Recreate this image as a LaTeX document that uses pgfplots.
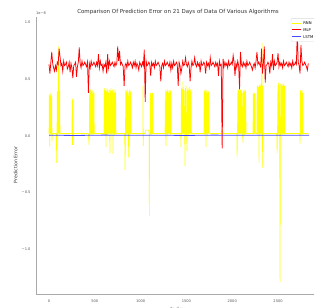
\documentclass[border=0pt]{standalone}
\usepackage{fontspec}
\setmainfont{DejaVu Sans}
\usepackage{pgfplots}
\pgfplotsset{compat=1.18}
\definecolor{cRNN}{RGB}{255,255,0}
\definecolor{cMLP}{RGB}{255,0,0}
\definecolor{cLSTM}{RGB}{70,70,255}
\definecolor{spine}{RGB}{170,170,170}
\definecolor{ticktext}{RGB}{85,85,85}
\begin{document}
\begin{tikzpicture}
\begin{axis}[
  at={(36bp,14bp)}, anchor=south west,
  scale only axis, width=284bp, height=277bp,
  xmin=-142, xmax=2958, ymin=-1.397, ymax=1.049,
  clip mode=individual,
  axis x line*=bottom, axis y line*=left,
  axis line style={draw=spine, line width=0.8bp},
  major tick length=0pt,
  xtick={0,500,1000,1500,2000,2500},
  xticklabels={0,500,1000,1500,2000,2500},
  ytick={-1,-0.5,0,0.5,1},
  yticklabels={−1.0,−0.5,0.0,0.5,1.0},
  tick label style={font=\fontsize{3.6bp}{4.3bp}\selectfont, text=ticktext},
  xticklabel style={yshift=-2.5bp},
  yticklabel style={xshift=-2bp},
  title={Comparison Of Prediction Error on 21 Days of Data Of Various Algorithms},
  title style={font=\fontsize{5.5bp}{6.5bp}\selectfont, text=black!80, yshift=-7bp},
  xlabel={Index}, ylabel={Prediction Error},
  label style={text=black!80},
  xlabel style={font=\fontsize{5.6bp}{6.5bp}\selectfont, yshift=2bp},
  ylabel style={font=\fontsize{4.7bp}{5.5bp}\selectfont, at={(ticklabel cs:0.466)}, yshift=-2.5bp},
]
% RNN
\addplot[color=cRNN, line width=0.6bp] coordinates {
(0,0.02)(3,0.36)(6,0.01)(9,-0.10)(12,0.38)(15,0.02)(18,0.35)(21,0.01)(24,0.37)(27,0.02)(30,0.34)(33,-0.05)(36,0.02)
(60,0.02)(80,0.02)
(84,-0.24)(87,0.02)(90,0.39)(93,0.01)(96,0.40)(99,0.02)(102,0.38)(105,0.79)(108,0.02)(111,0.37)(114,0.01)(117,0.40)(120,0.02)
(180,0.02)(240,0.02)
(250,0.02)(253,0.33)(256,-0.08)(259,0.32)(262,0.02)
(350,0.02)(430,0.02)
(437,-0.08)(440,0.02)(443,0.40)(446,0.01)(449,0.38)(452,0.02)(455,0.41)(458,0.01)(461,0.39)(464,0.02)(467,0.40)(470,0.01)(473,0.37)(476,0.02)(479,0.40)(482,0.01)(485,0.39)(488,0.02)(491,0.38)(494,0.02)
(550,0.02)(595,0.02)
(600,0.02)(604,0.42)(608,0.01)(612,0.40)(616,0.02)(620,0.41)(622,-0.10)(626,0.39)(630,0.01)(634,0.42)(638,0.02)(642,0.40)(646,0.01)(650,0.38)(654,0.02)(658,0.41)(662,0.01)(666,-0.15)(670,0.40)(674,0.02)(678,0.42)(682,0.01)(686,0.39)(690,0.02)(694,0.41)(699,-0.16)(703,0.40)(707,0.02)(711,0.38)(715,0.01)(719,0.41)(723,0.02)(727,0.39)(731,0.02)
(780,0.02)(826,0.02)
(830,-0.30)(834,0.02)(838,0.40)(842,0.01)(846,0.39)(850,0.02)(854,0.41)(858,0.01)(862,0.38)(866,0.02)(870,-0.19)(874,0.40)(878,0.01)(882,0.41)(886,0.02)(890,0.39)(895,0.02)
(960,0.02)(1020,0.02)
(1024,0.02)(1026,0.44)(1029,-0.09)(1032,0.02)
(1050,0.02)(1052,0.05)(1090,0.05)(1093,0.02)(1095,-0.71)(1098,0.02)
(1103,0.02)(1106,0.38)(1109,0.01)(1112,0.37)(1115,0.02)(1118,0.38)(1121,0.01)(1124,0.36)(1127,0.02)(1130,0.38)(1133,0.02)
(1200,0.02)(1262,0.02)
(1266,0.02)(1270,0.40)(1274,0.01)(1277,-0.09)(1281,0.39)(1285,0.02)(1289,0.41)(1293,0.01)(1297,0.40)(1301,0.02)(1305,0.38)(1309,0.01)(1313,0.40)(1317,0.02)(1321,0.39)(1325,0.01)(1329,0.40)(1333,0.02)
(1400,0.02)(1437,0.02)
(1441,-0.10)(1445,0.42)(1449,0.01)(1453,0.48)(1457,0.02)(1461,0.41)(1465,0.01)(1469,0.43)(1473,0.02)(1477,0.40)(1481,0.01)(1485,-0.27)(1489,0.42)(1493,0.02)(1497,0.44)(1501,0.01)(1507,-0.14)(1511,0.41)(1515,0.02)(1519,0.42)(1523,0.01)(1527,0.40)(1531,0.02)(1535,0.43)(1539,0.01)(1543,0.41)(1547,0.02)(1551,0.39)(1555,0.02)
(1620,0.02)(1690,0.02)
(1694,0.40)(1698,0.01)(1702,0.39)(1706,0.02)(1710,0.41)(1714,-0.10)(1718,0.40)(1722,0.02)(1726,0.38)(1730,0.01)(1734,0.40)(1738,0.02)(1742,0.39)(1747,0.02)
(1850,0.02)(1880,0.02)(1885,0.05)(1895,0.05)(1900,0.02)
(1960,0.02)(2020,0.02)(2050,0.02)
(2053,-0.19)(2057,0.02)(2061,0.40)(2065,0.01)(2069,0.41)(2073,0.02)(2077,0.39)(2081,0.01)(2085,0.40)(2089,0.02)(2093,0.41)(2097,0.01)(2101,0.40)(2105,0.02)(2109,0.38)(2113,0.01)(2118,-0.06)(2122,0.40)(2126,0.02)(2130,0.39)(2134,0.01)(2138,0.41)(2142,0.02)(2146,0.40)(2151,0.02)
(2200,0.02)(2226,0.02)
(2230,0.38)(2234,0.01)(2238,0.37)(2242,0.02)(2246,0.38)(2250,0.02)
(2268,0.02)(2272,0.44)(2276,0.01)(2280,0.45)(2284,0.02)(2288,0.43)(2293,-0.24)(2297,0.45)(2301,0.01)(2305,0.44)(2309,0.02)(2313,0.46)(2317,0.01)(2321,0.44)(2326,0.82)(2329,-0.28)(2333,0.44)(2337,0.02)
(2400,0.02)(2486,0.02)
(2490,-0.15)(2494,0.02)(2498,0.45)(2502,0.01)(2506,0.47)(2510,0.02)(2514,0.44)(2518,0.01)(2522,-1.29)(2526,0.02)(2530,0.46)(2534,0.01)(2538,0.45)(2542,0.02)(2546,0.44)(2550,0.01)(2554,0.46)(2558,0.02)(2562,0.45)(2566,0.01)(2570,0.44)(2574,0.02)(2577,0.02)
(2650,0.02)(2737,0.02)
(2741,-0.07)(2745,0.40)(2749,0.01)(2753,0.39)(2757,0.02)(2761,0.40)(2765,0.01)(2769,0.38)(2774,0.02)
(2830,0.02)
};
% MLP
\addplot[color=cMLP, line width=0.75bp] coordinates {
(0,0.63)(10,0.55)(20,0.65)(30,0.74)(40,0.64)(50,0.60)(60,0.57)(70,0.62)(80,0.58)(90,0.65)
(100,0.63)(110,0.77)(120,0.70)(130,0.62)(140,0.64)(150,0.57)(160,0.66)(170,0.62)(180,0.63)(190,0.65)
(200,0.59)(210,0.61)(220,0.65)(230,0.56)(240,0.64)(250,0.60)(260,0.51)(270,0.62)(280,0.63)(290,0.65)
(300,0.52)(310,0.61)(320,0.65)(330,0.78)(340,0.64)(350,0.60)(360,0.66)(370,0.62)(380,0.63)(390,0.65)
(400,0.63)(410,0.61)(420,0.65)(430,0.38)(440,0.64)(450,0.60)(460,0.66)(470,0.62)(480,0.63)(490,0.65)
(500,0.63)(510,0.61)(520,0.65)(530,0.62)(540,0.72)(550,0.60)(560,0.66)(570,0.62)(580,0.63)(590,0.57)
(600,0.63)(610,0.61)(620,0.65)(630,0.55)(640,0.72)(650,0.60)(660,0.66)(670,0.62)(680,0.63)(690,0.65)
(700,0.63)(710,0.61)(720,0.65)(730,0.62)(740,0.64)(750,0.79)(760,0.66)(770,0.75)(780,0.63)(790,0.65)
(800,0.63)(810,0.61)(820,0.44)(830,0.62)(840,0.64)(850,0.60)(860,0.66)(870,0.62)(880,0.63)(890,0.65)
(900,0.63)(910,0.60)(920,0.65)(930,0.62)(940,0.66)(950,0.60)(960,0.64)(970,0.62)(980,0.58)(990,0.65)
(1000,0.63)(1010,0.61)(1020,0.65)(1030,0.62)(1040,0.76)(1050,0.30)(1060,0.66)(1070,0.62)(1080,0.63)(1090,0.65)
(1100,0.63)(1110,0.53)(1120,0.65)(1130,0.62)(1140,0.64)(1150,0.60)(1160,0.66)(1170,0.62)(1180,0.63)(1190,0.65)
(1200,0.63)(1210,0.61)(1220,0.48)(1230,0.62)(1240,0.64)(1250,0.60)(1260,0.66)(1270,0.62)(1280,0.63)(1290,0.65)
(1300,0.63)(1310,0.61)(1320,0.65)(1330,0.58)(1340,0.64)(1350,0.60)(1360,0.66)(1370,0.62)(1380,0.63)(1390,0.65)
(1400,0.63)(1410,0.44)(1420,0.65)(1430,0.62)(1440,0.55)(1450,0.60)(1460,0.66)(1470,0.62)(1480,0.63)(1490,0.69)
(1500,0.63)(1510,0.61)(1520,0.65)(1530,0.62)(1540,0.48)(1550,0.60)(1560,0.66)(1570,0.62)(1580,0.63)(1590,0.69)
(1600,0.63)(1610,0.61)(1620,0.65)(1630,0.62)(1640,0.64)(1650,0.56)(1660,0.66)(1670,0.62)(1680,0.63)(1690,0.65)
(1700,0.63)(1710,0.55)(1720,0.65)(1730,0.62)(1740,0.64)(1750,0.60)(1760,0.69)(1770,0.62)(1780,0.63)(1790,0.65)
(1800,0.63)(1810,0.61)(1820,0.65)(1830,0.62)(1840,0.64)(1850,0.53)(1860,0.66)(1870,0.62)(1880,0.63)(1890,-0.11)
(1900,0.68)(1910,0.61)(1920,0.65)(1930,0.62)(1940,0.64)(1950,0.60)(1960,0.66)(1970,0.62)(1980,0.63)(1990,0.65)
(2000,0.63)(2010,0.71)(2020,0.65)(2030,0.53)(2040,0.64)(2050,0.60)(2060,0.66)(2070,0.62)(2080,0.41)(2090,0.74)
(2100,0.63)(2110,0.61)(2120,0.65)(2130,0.62)(2140,0.64)(2150,0.60)(2160,0.66)(2170,0.62)(2180,0.63)(2190,0.65)
(2200,0.63)(2210,0.61)(2220,0.58)(2230,0.62)(2240,0.64)(2250,0.60)(2260,0.66)(2270,0.74)(2280,0.63)(2290,0.65)
(2300,0.63)(2310,0.61)(2320,0.77)(2330,0.55)(2340,0.64)(2350,0.79)(2360,0.47)(2370,0.62)(2380,0.63)(2390,0.65)
(2400,0.63)(2410,0.55)(2420,0.65)(2430,0.62)(2440,0.72)(2450,0.58)(2460,0.66)(2470,0.62)(2480,0.63)(2490,0.65)
(2500,0.73)(2510,0.61)(2520,0.65)(2530,0.62)(2540,0.64)(2550,0.60)(2560,0.66)(2570,0.62)(2580,0.63)(2590,0.65)
(2600,0.63)(2610,0.61)(2620,0.65)(2630,0.62)(2640,0.64)(2650,0.60)(2660,0.66)(2670,0.62)(2680,0.63)(2690,0.65)
(2700,0.63)(2710,0.92)(2720,0.65)(2730,0.62)(2740,0.55)(2750,0.80)(2760,0.66)(2770,0.62)(2780,0.63)(2790,0.65)
(2800,0.63)(2810,0.61)(2820,0.58)(2830,0.64)
};
% LSTM
\addplot[color=cLSTM, line width=0.8bp] coordinates {
(0,0.005)(300,0.003)(600,0.006)(900,0.004)(1200,0.005)(1500,0.003)(1800,0.006)(2100,0.004)(2400,0.005)(2700,0.004)(2840,0.005)
};
\node[anchor=south west, inner sep=0pt, font=\fontsize{3.6bp}{4.3bp}\selectfont, text=ticktext] at (rel axis cs:0,1) [yshift=2bp] {1e−8};
\node[anchor=north west, draw=black!15, rounded corners=1pt, fill=white, inner sep=1.4bp,
  font=\fontsize{3.8bp}{6.7bp}\selectfont] at (rel axis cs:0.897,0.995) {%
  \setlength{\tabcolsep}{1.2bp}%
  \begin{tabular}{@{}l@{\hspace{2bp}}l@{}}
  \textcolor{cRNN}{\rule[1.2bp]{9bp}{0.9bp}} & RNN\\
  \textcolor{cMLP}{\rule[1.2bp]{9bp}{0.9bp}} & MLP\\
  \textcolor{cLSTM}{\rule[1.2bp]{9bp}{0.9bp}} & LSTM
  \end{tabular}};
\end{axis}
\pgfresetboundingbox
\path[use as bounding box] (0,0) rectangle (314bp,308bp);
\end{tikzpicture}
\end{document}
